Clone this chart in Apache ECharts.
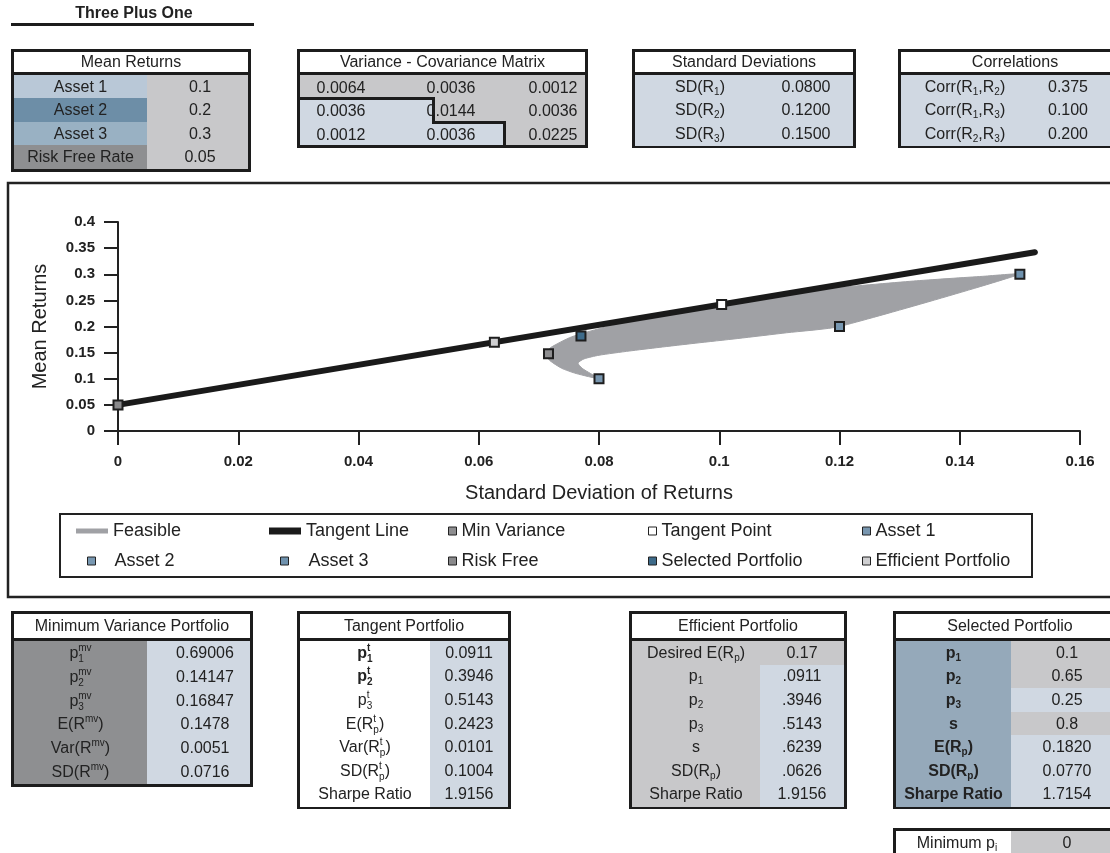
<!DOCTYPE html>
<html><head><meta charset="utf-8">
<script src="https://cdn.jsdelivr.net/npm/echarts@6/dist/echarts.min.js"></script>
<style>
html,body{margin:0;padding:0;background:#fff;width:1110px;height:853px;overflow:hidden;font-family:'Liberation Sans',Arial,Helvetica,sans-serif;color:#222;}
#chart{position:absolute;left:0;top:0;width:1110px;height:853px;}
#tables{position:absolute;left:0;top:0;width:1110px;height:853px;pointer-events:none;}
.r{position:absolute;box-sizing:border-box;}
.t{position:absolute;transform:translate(-50%,-50%);white-space:nowrap;font-size:16px;line-height:18px;color:#222;}
.t sub{font-size:10px;vertical-align:-3px;line-height:0;}
.t sup{font-size:10px;vertical-align:7px;line-height:0;}
.ss{display:inline-block;vertical-align:-4px;font-size:10px;line-height:11px;text-align:left;}
.ss span{display:block;}
.b{font-weight:bold;}
</style></head>
<body>
<div id="chart"></div>
<div id="tables"></div>
<script>
// ---------------- DATA ----------------
const meanLabels = ['Asset 1', 'Asset 2', 'Asset 3', 'Risk Free Rate'];
const meanValues = ['0.1', '0.2', '0.3', '0.05'];
const varCov = [['0.0064', '0.0036', '0.0012'], ['0.0036', '0.0144', '0.0036'], ['0.0012', '0.0036', '0.0225']];
const sdLabels = ['SD(R<sub>1</sub>)', 'SD(R<sub>2</sub>)', 'SD(R<sub>3</sub>)'];
const sdValues = ['0.0800', '0.1200', '0.1500'];
const corrLabels = ['Corr(R<sub>1</sub>,R<sub>2</sub>)', 'Corr(R<sub>1</sub>,R<sub>3</sub>)', 'Corr(R<sub>2</sub>,R<sub>3</sub>)'];
const corrValues = ['0.375', '0.100', '0.200'];
const ss = (s, p) => '<span class="ss"><span>' + p + '</span><span>' + s + '</span></span>';
const mvLabels = ['p' + ss('1', 'mv'), 'p' + ss('2', 'mv'), 'p' + ss('3', 'mv'), 'E(R<sup>mv</sup>)', 'Var(R<sup>mv</sup>)', 'SD(R<sup>mv</sup>)'];
const mvValues = ['0.69006', '0.14147', '0.16847', '0.1478', '0.0051', '0.0716'];
const tanLabels = ['<b>p' + ss('1', 't') + '</b>', '<b>p' + ss('2', 't') + '</b>', 'p' + ss('3', 't'), 'E(R' + ss('p', 't') + ')', 'Var(R' + ss('p', 't') + ')', 'SD(R' + ss('p', 't') + ')', 'Sharpe Ratio'];
const tanValues = ['0.0911', '0.3946', '0.5143', '0.2423', '0.0101', '0.1004', '1.9156'];
const effLabels = ['Desired E(R<sub>p</sub>)', 'p<sub>1</sub>', 'p<sub>2</sub>', 'p<sub>3</sub>', 's', 'SD(R<sub>p</sub>)', 'Sharpe Ratio'];
const effValues = ['0.17', '.0911', '.3946', '.5143', '.6239', '.0626', '1.9156'];
const selLabels = ['p<sub>1</sub>', 'p<sub>2</sub>', 'p<sub>3</sub>', 's', 'E(R<sub>p</sub>)', 'SD(R<sub>p</sub>)', 'Sharpe Ratio'];
const selValues = ['0.1', '0.65', '0.25', '0.8', '0.1820', '0.0770', '1.7154'];
const minPLabel = 'Minimum p<sub>i</sub>';
const minPValue = '0';

// chart points [SD, mean]
const riskFree = [0, 0.05];
const tangentPoint = [0.1004, 0.2423];
const minVariance = [0.0716, 0.1478];
const asset1 = [0.08, 0.10];
const asset2 = [0.12, 0.20];
const asset3 = [0.15, 0.30];
const selectedPortfolio = [0.077, 0.182];
const efficientPortfolio = [0.0626, 0.17];
const tangentLineSD = [0, 0.1525];
const tangentLineMean = [0.05, 0.342];
const feasibleSD = [0.0800, 0.0786, 0.0772, 0.0765, 0.0775, 0.0800, 0.0850, 0.0900, 0.0960, 0.1031, 0.1112, 0.1200, 0.1500, 0.1438, 0.1323, 0.1176, 0.1083, 0.1005, 0.0894, 0.0814, 0.0754, 0.0720, 0.0711, 0.0718, 0.0738, 0.0762];
const feasibleMean = [0.100, 0.110, 0.120, 0.130, 0.138, 0.145, 0.153, 0.160, 0.168, 0.177, 0.188, 0.200, 0.300, 0.296, 0.287, 0.272, 0.258, 0.242, 0.220, 0.200, 0.180, 0.160, 0.148, 0.135, 0.120, 0.110];
const xTicks = {min: 0, max: 0.16, interval: 0.02};
const yTicks = {min: 0, max: 0.4, interval: 0.05};

// ---------------- TABLES (HTML) ----------------
const BLUE = '#d0d8e2', GRAY = '#c8c8ca', DGRAY = '#8e8f91', BK = '#1c1c1c';
const T = document.getElementById('tables');
let html = '';
function rect(x, y, w, h, css) { html += `<div class="r" style="left:${x}px;top:${y}px;width:${w}px;height:${h}px;${css}"></div>`; }
function text(cx, cy, s, cls) { html += `<div class="t ${cls || ''}" style="left:${cx}px;top:${cy}px;">${s}</div>`; }

function table(o) {
  const n = o.labels.length;
  const h = 3 + o.headerH + 3 + n * o.rowH + 3;
  rect(o.x, o.y, o.w, h, `border:3px solid ${BK};background:#fff;`);
  const hc = o.headerCx || (o.x + o.w / 2);
  text(hc, o.y + 3 + o.headerH / 2, o.title);
  rect(o.x, o.y + 3 + o.headerH, o.w, 3, `background:${BK};`);
  const y0 = o.y + 6 + o.headerH;
  const lcx = o.labelCx || (o.x + 3 + o.split) / 2;
  const vcx = o.valueCx || (o.split + o.x + o.w - 3) / 2;
  for (let i = 0; i < n; i++) {
    const ry = y0 + i * o.rowH;
    const lb = typeof o.lbg === 'string' ? o.lbg : o.lbg[i];
    const vb = typeof o.vbg === 'string' ? o.vbg : o.vbg[i];
    rect(o.x + 3, ry, o.split - o.x - 3, o.rowH + 0.5, `background:${lb};`);
    rect(o.split, ry, o.x + o.w - 3 - o.split, o.rowH + 0.5, `background:${vb};`);
    text(lcx, ry + o.rowH / 2, o.labels[i], o.bold ? 'b' : '');
    text(vcx, ry + o.rowH / 2, o.values[i]);
  }
}

// title
text(134, 13, 'Three Plus One', 'b');
rect(11, 23, 243, 3, `background:${BK};`);

// Mean returns
table({x: 11, y: 49, w: 240, headerH: 20, rowH: 23.4, split: 147, title: 'Mean Returns',
  labels: meanLabels, values: meanValues, lbg: ['#b9c8d7', '#6d8ea7', '#99b1c3', DGRAY], vbg: GRAY, valueCx: 200});

// Variance-covariance matrix
(function () {
  const x = 297, y = 49, w = 291, headerH = 20, rowH = 23.4;
  const h = 3 + headerH + 3 + 3 * rowH + 3;
  rect(x, y, w, h, `border:3px solid ${BK};background:#fff;`);
  text(x + w / 2, y + 3 + headerH / 2, 'Variance - Covariance Matrix');
  rect(x, y + 3 + headerH, w, 3, `background:${BK};`);
  const y0 = y + 6 + headerH;
  rect(x + 3, y0, w - 6, 3 * rowH, `background:${GRAY};`);
  rect(x + 3, y0 + rowH - 1, 432 - x, rowH + 1.5, `background:${BLUE};border-top:3px solid ${BK};border-right:3px solid ${BK};`);
  rect(x + 3, y0 + 2 * rowH, 503 - x, rowH, `background:${BLUE};border-right:3px solid ${BK};`);
  rect(432, y0 + 2 * rowH - 1, 503 - 432 + 3, 3, `background:${BK};`);
  const cx = [341, 451, 553];
  for (let r = 0; r < 3; r++) for (let c = 0; c < 3; c++) text(cx[c], y0 + r * rowH + rowH / 2 + 1, varCov[r][c]);
})();

// Standard deviations
table({x: 632, y: 49, w: 224, headerH: 20, rowH: 23.4, split: 760, title: 'Standard Deviations',
  labels: sdLabels, values: sdValues, lbg: BLUE, vbg: BLUE, labelCx: 700, valueCx: 806});
// Correlations
table({x: 898, y: 49, w: 236, headerH: 20, rowH: 23.4, split: 1010, title: 'Correlations',
  labels: corrLabels, values: corrValues, lbg: BLUE, vbg: BLUE, labelCx: 965, valueCx: 1068, headerCx: 1015});

// Bottom tables
table({x: 11, y: 611, w: 242, headerH: 24, rowH: 23.8, split: 147, title: 'Minimum Variance Portfolio',
  labels: mvLabels, values: mvValues, lbg: DGRAY, vbg: BLUE, valueCx: 205});
table({x: 297, y: 611, w: 214, headerH: 24, rowH: 23.6, split: 430, title: 'Tangent Portfolio',
  labels: tanLabels, values: tanValues, lbg: '#fff', vbg: BLUE});
table({x: 629, y: 611, w: 218, headerH: 24, rowH: 23.6, split: 760, title: 'Efficient Portfolio',
  labels: effLabels, values: effValues, lbg: GRAY, vbg: [GRAY, BLUE, BLUE, BLUE, BLUE, BLUE, BLUE]});
table({x: 893, y: 611, w: 230, headerH: 24, rowH: 23.6, split: 1011, title: 'Selected Portfolio', bold: true,
  labels: selLabels, values: selValues, lbg: '#95a9ba', vbg: [GRAY, GRAY, BLUE, GRAY, BLUE, BLUE, BLUE], valueCx: 1067, headerCx: 1010});
// Minimum p_i
rect(893, 828, 230, 40, `border:3px solid ${BK};border-bottom:none;background:#fff;`);
rect(1011, 831, 109, 30, `background:${GRAY};`);
text(957, 843, minPLabel);
text(1067, 843, minPValue);
T.innerHTML = html;

// ---------------- CHART ----------------
const FONT = "'Liberation Sans', Arial, Helvetica, sans-serif";
const FEAS = '#a0a1a5';
const chart = echarts.init(document.getElementById('chart'), null, {renderer: 'canvas'});
function pt(name, p, color, z) {
  return {name: name, type: 'scatter', data: [p], symbol: 'rect', symbolSize: 9, z: z || 5,
    itemStyle: {color: color, borderColor: '#1e1e1e', borderWidth: 2, opacity: 1}};
}
const legendDefs = [
  {name: 'Feasible', left: 76, top: 522, w: 32, h: 5},
  {name: 'Tangent Line', left: 269, top: 522, w: 32, h: 7},
  {name: 'Min Variance', left: 448, top: 522, w: 8, h: 8},
  {name: 'Tangent Point', left: 648, top: 522, w: 8, h: 8},
  {name: 'Asset 1', left: 862, top: 522, w: 8, h: 8},
  {name: 'Asset 2', left: 87, top: 552, w: 8, h: 8, pad: 14},
  {name: 'Asset 3', left: 280, top: 552, w: 8, h: 8, pad: 15},
  {name: 'Risk Free', left: 448, top: 552, w: 8, h: 8},
  {name: 'Selected Portfolio', left: 648, top: 552, w: 8, h: 8},
  {name: 'Efficient Portfolio', left: 862, top: 552, w: 8, h: 8}
];
const legends = legendDefs.map(d => ({
  data: [{name: d.name, icon: 'rect'}], left: d.left, top: d.top, padding: 0,
  itemWidth: d.w, itemHeight: d.h, selectedMode: false,
  itemStyle: {borderWidth: d.w > 10 ? 0 : 1, borderColor: '#222'},
  textStyle: {fontSize: 18, color: '#222', fontFamily: FONT, padding: [0, 0, 0, d.pad || 0]}
}));
const axisCommon = {
  axisLine: {show: true, lineStyle: {color: '#222', width: 2}},
  axisTick: {show: true, length: 14, lineStyle: {color: '#222', width: 2}},
  splitLine: {show: false},
  axisLabel: {fontWeight: 'bold', fontSize: 15, color: '#222', margin: 23, fontFamily: FONT},
  nameLocation: 'middle',
  nameTextStyle: {fontSize: 20, color: '#222', fontFamily: FONT}
};
chart.setOption({
  animation: false,
  textStyle: {fontFamily: FONT},
  grid: {left: 118, right: 30, top: 222, bottom: 422, containLabel: false},
  xAxis: Object.assign({type: 'value', min: xTicks.min, max: xTicks.max, interval: xTicks.interval,
    name: 'Standard Deviation of Returns', nameGap: 52}, axisCommon),
  yAxis: Object.assign({type: 'value', min: yTicks.min, max: yTicks.max, interval: yTicks.interval,
    name: 'Mean Returns', nameGap: 68}, axisCommon),
  legend: legends,
  graphic: [
    {type: 'rect', shape: {x: 8, y: 183, width: 1130, height: 414}, style: {fill: 'none', stroke: '#222', lineWidth: 2.5}, silent: true},
    {type: 'rect', shape: {x: 60, y: 514, width: 972, height: 63}, style: {fill: 'none', stroke: '#222', lineWidth: 2}, silent: true}
  ],
  series: [
    {name: 'Feasible', type: 'custom', coordinateSystem: 'cartesian2d', z: 1,
      itemStyle: {color: FEAS},
      data: [[feasibleSD[0], feasibleMean[0]]],
      renderItem: function (params, api) {
        const pts = feasibleSD.map((x, i) => api.coord([x, feasibleMean[i]]));
        return {type: 'polygon', shape: {points: pts, smooth: 0.2}, style: {fill: FEAS, stroke: FEAS, lineWidth: 1}};
      }},
    {name: 'Tangent Line', type: 'line', z: 2, color: '#1a1a1a', symbol: 'none',
      data: tangentLineSD.map((x, i) => [x, tangentLineMean[i]]),
      lineStyle: {color: '#1a1a1a', width: 6, cap: 'round'}},
    pt('Min Variance', minVariance, '#8e8e90'),
    pt('Tangent Point', tangentPoint, '#ffffff'),
    pt('Asset 1', asset1, '#7896af'),
    pt('Asset 2', asset2, '#7898b2'),
    pt('Asset 3', asset3, '#6f92ae'),
    pt('Risk Free', riskFree, '#8a8a8c'),
    pt('Selected Portfolio', selectedPortfolio, '#3e6b8a'),
    pt('Efficient Portfolio', efficientPortfolio, '#cfcfd1')
  ]
});
</script>
</body></html>
